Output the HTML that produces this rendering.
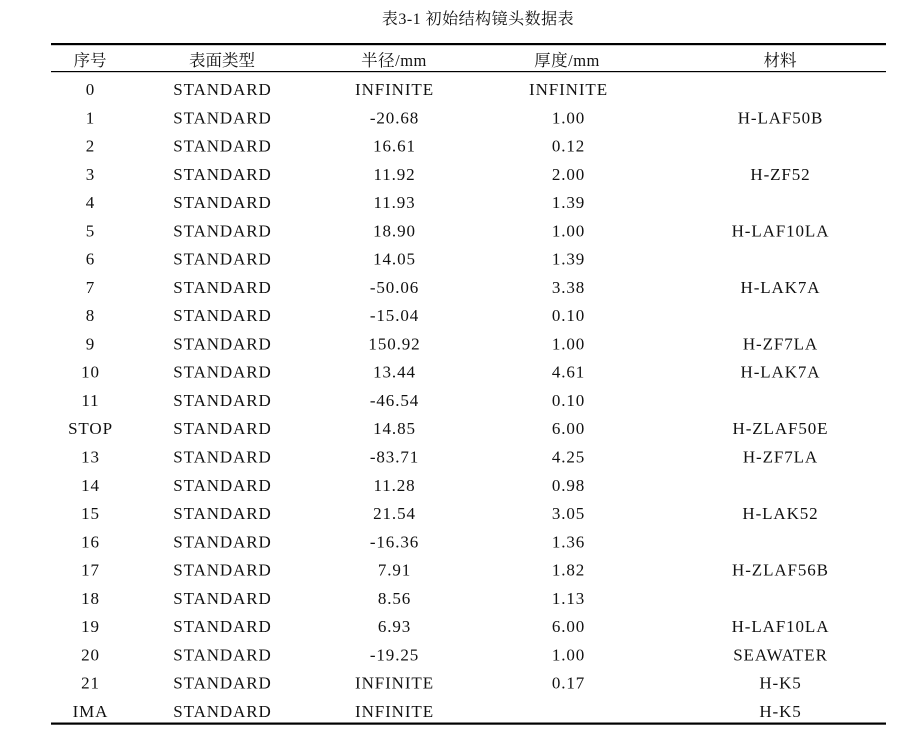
<!DOCTYPE html>
<html><head><meta charset="utf-8"><style>
html,body{margin:0;padding:0;background:#fff;}
svg{display:block;}
text{font-family:"Liberation Serif","Noto Serif CJK SC",serif;font-size:16.5px;fill:#111;text-anchor:middle;}
#rows text{font-size:17px;letter-spacing:0.9px;}
</style></head><body>
<svg width="906" height="740" viewBox="0 0 906 740" xmlns="http://www.w3.org/2000/svg">
<text x="478" y="24" style="font-size:16px;letter-spacing:0.5px">表3-1 初始结构镜头数据表</text>
<rect x="51" y="43" width="835" height="2.2" fill="#000"/>
<rect x="51" y="71" width="835" height="1.2" fill="#000"/>
<rect x="51" y="722.5" width="835" height="2.2" fill="#000"/>
<g>
<text x="90" y="66">序号</text><text x="222" y="66">表面类型</text><text x="394" y="66" style="letter-spacing:0.5px">半径/mm</text><text x="567" y="66" style="letter-spacing:0.5px">厚度/mm</text><text x="780" y="66">材料</text>
</g>
<g id="rows"></g>
</svg>
<script>
var d=[["0","INFINITE","INFINITE",""],["1","-20.68","1.00","H-LAF50B"],["2","16.61","0.12",""],["3","11.92","2.00","H-ZF52"],["4","11.93","1.39",""],["5","18.90","1.00","H-LAF10LA"],["6","14.05","1.39",""],["7","-50.06","3.38","H-LAK7A"],["8","-15.04","0.10",""],["9","150.92","1.00","H-ZF7LA"],["10","13.44","4.61","H-LAK7A"],["11","-46.54","0.10",""],["STOP","14.85","6.00","H-ZLAF50E"],["13","-83.71","4.25","H-ZF7LA"],["14","11.28","0.98",""],["15","21.54","3.05","H-LAK52"],["16","-16.36","1.36",""],["17","7.91","1.82","H-ZLAF56B"],["18","8.56","1.13",""],["19","6.93","6.00","H-LAF10LA"],["20","-19.25","1.00","SEAWATER"],["21","INFINITE","0.17","H-K5"],["IMA","INFINITE","","H-K5"]];
var g=document.getElementById("rows"),h="";
d.forEach(function(r,i){var y=(95+i*28.27).toFixed(1);
h+='<text x="90.5" y="'+y+'">'+r[0]+'</text><text x="222.5" y="'+y+'">STANDARD</text><text x="394.5" y="'+y+'">'+r[1]+'</text><text x="568.5" y="'+y+'">'+r[2]+'</text><text x="780.5" y="'+y+'">'+r[3]+'</text>';});
g.innerHTML=h;
</script>
</body></html>
